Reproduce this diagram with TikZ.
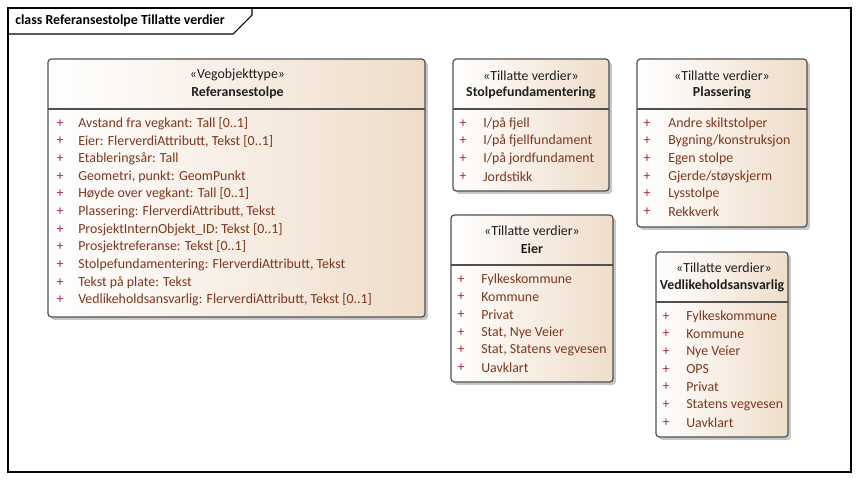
\documentclass[tikz,border=0pt]{standalone}
\usepackage{fontspec}
\setmainfont{Carlito}
\usetikzlibrary{fit,shadows}
\definecolor{itemc}{RGB}{125,55,30}
\definecolor{plusc}{RGB}{165,40,60}
\definecolor{tanc}{RGB}{239,221,201}
\definecolor{edgec}{RGB}{80,80,80}
\newcommand\umlitems[5]{%
  \foreach \t [count=\i from 0] in {#5} {
    \node[plussign] (#1p\i) at (#2,#4+\i*17.65) {+};
    \node[itemtext] (#1t\i) at (#3,#4+\i*17.65) {\t};
  }}
\begin{document}
\begin{tikzpicture}[x=0.75pt,y=-0.75pt,
  umlbox/.style={draw=edgec, line width=0.9pt, rounded corners=2.5pt,
    left color=white, right color=tanc, inner sep=0pt,
    drop shadow={shadow xshift=2.2pt, shadow yshift=-2.2pt, fill=black!22, opacity=1}},
  sepline/.style={draw=edgec, line width=0.9pt},
  stereo/.style={font=\fontsize{10.4}{11}\selectfont, text=black!88, inner sep=0pt},
  cname/.style={font=\fontsize{10.4}{11}\selectfont\bfseries, text=black!88, inner sep=0pt},
  plussign/.style={font=\fontsize{10.4}{11}\selectfont, text=plusc, inner sep=0pt},
  itemtext/.style={font=\fontsize{10.4}{11}\selectfont, text=itemc, inner sep=0pt, anchor=west},
  frameline/.style={draw=black, line width=0.8pt}]
\useasboundingbox (0,0) rectangle (858,480);
% frame
\draw[frameline] (8,8) rectangle (851,472);
\draw[frameline] (8,34) -- (233,34) -- (252,15) -- (252,8);
\node[font=\fontsize{10.4}{11}\selectfont\bfseries, anchor=west, inner sep=0pt] (title) at (15,21) {class Referansestolpe Tillatte verdier};

% Referansestolpe
\node[umlbox, fit={(48,59) (425,317)}] (ref) {};
\draw[sepline] (48,109) -- (425,109);
\node[stereo] (refs) at (237.5,75) {«Vegobjekttype»};
\node[cname] (refn) at (237.5,93) {Referansestolpe};
\umlitems{ref}{60}{78}{123.5}{{Avstand fra vegkant: Tall [0..1]},{Eier: FlerverdiAttributt, Tekst [0..1]},{Etableringsår: Tall},{Geometri, punkt: GeomPunkt},{Høyde over vegkant: Tall [0..1]},{Plassering: FlerverdiAttributt, Tekst},{ProsjektInternObjekt\_ID: Tekst [0..1]},{Prosjektreferanse: Tekst [0..1]},{Stolpefundamentering: FlerverdiAttributt, Tekst},{Tekst på plate: Tekst},{Vedlikeholdsansvarlig: FlerverdiAttributt, Tekst [0..1]}}

% Stolpefundamentering
\node[umlbox, fit={(453,59) (609,191)}] (sto) {};
\draw[sepline] (453,109) -- (609,109);
\node[stereo] (stos) at (531,76) {«Tillatte verdier»};
\node[cname] (ston) at (531,93) {Stolpefundamentering};
\umlitems{sto}{463}{483}{123.5}{{I/på fjell},{I/på fjellfundament},{I/på jordfundament},{Jordstikk}}

% Plassering
\node[umlbox, fit={(637,59) (807,227)}] (pla) {};
\draw[sepline] (637,109) -- (807,109);
\node[stereo] (plas) at (722,76) {«Tillatte verdier»};
\node[cname] (plan) at (722,93) {Plassering};
\umlitems{pla}{647}{668}{123.5}{{Andre skiltstolper},{Bygning/konstruksjon},{Egen stolpe},{Gjerde/støyskjerm},{Lysstolpe},{Rekkverk}}

% Eier
\node[umlbox, fit={(451,215) (613,382)}] (eie) {};
\draw[sepline] (451,265) -- (613,265);
\node[stereo] (eies) at (532,231) {«Tillatte verdier»};
\node[cname] (eien) at (532,249) {Eier};
\umlitems{eie}{461}{481}{279.5}{{Fylkeskommune},{Kommune},{Privat},{Stat, Nye Veier},{Stat, Statens vegvesen},{Uavklart}}

% Vedlikeholdsansvarlig
\node[umlbox, fit={(656,252) (788,437)}] (ved) {};
\draw[sepline] (656,302) -- (788,302);
\node[stereo] (veds) at (724,268) {«Tillatte verdier»};
\node[cname] (vedn) at (722,286) {Vedlikeholdsansvarlig};
\umlitems{ved}{666}{686}{316.5}{{Fylkeskommune},{Kommune},{Nye Veier},{OPS},{Privat},{Statens vegvesen},{Uavklart}}
\end{tikzpicture}
\end{document}
